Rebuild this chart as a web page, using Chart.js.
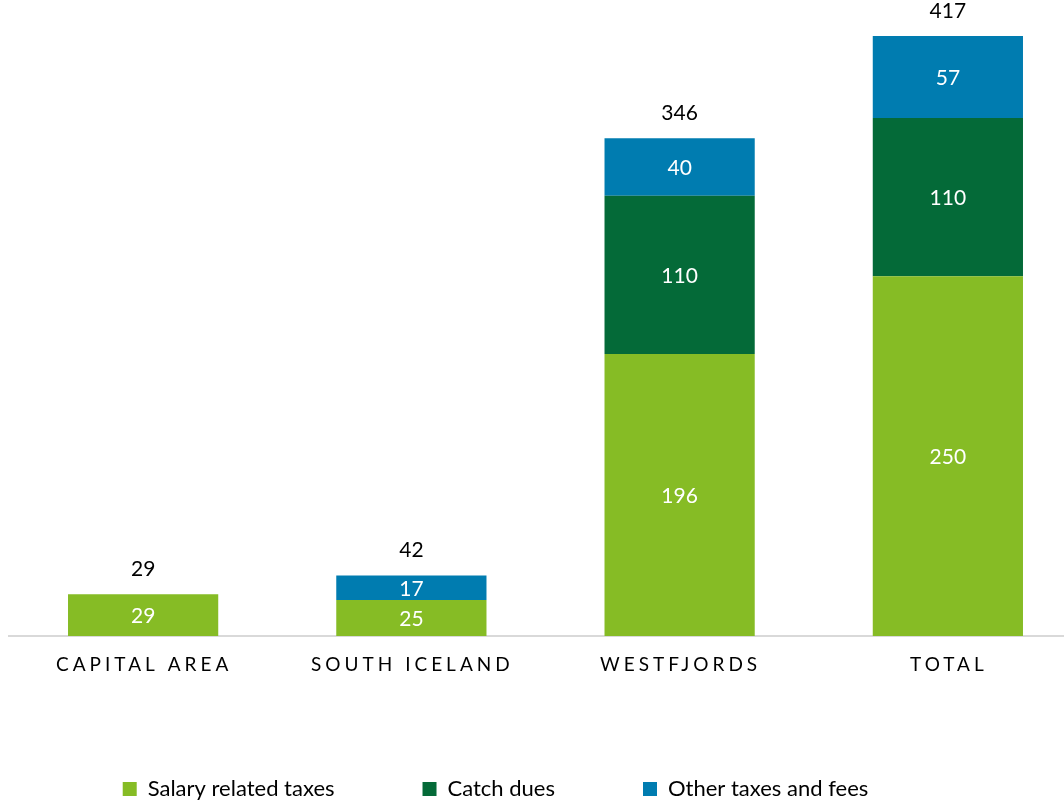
<!DOCTYPE html>
<html>
<head>
<meta charset="utf-8">
<script src="https://cdn.jsdelivr.net/npm/chart.js@4"></script>
<style>
  html, body { margin: 0; padding: 0; background: #fff; overflow: hidden; }
  #wrap { width: 1064px; height: 801px; overflow: hidden; }
</style>
</head>
<body>
<div id="wrap"><canvas id="chart" width="1085" height="801"></canvas></div>
<script>
const regions = ["CAPITAL AREA", "SOUTH ICELAND", "WESTFJORDS", "TOTAL"];
const salaryTaxes = [29, 25, 196, 250];
const catchDues = [null, null, 110, 110];
const otherTaxes = [null, 17, 40, 57];
const totals = [29, 42, 346, 417];

const FONT = "Lato, 'Open Sans', sans-serif";

// white numbers inside each segment, black totals above the stacks
const valueLabels = {
  id: "valueLabels",
  afterLayout(chart) {
    // legend is centred on the visible page, not on the wider canvas
    if (chart.legend) {
      chart.legend.left -= 50;
      chart.legend.right -= 50;
    }
  },
  afterDatasetsDraw(chart) {
    const ctx = chart.ctx;
    ctx.save();
    ctx.textAlign = "center";
    ctx.textBaseline = "middle";
    ctx.font = "21px " + FONT;
    ctx.fillStyle = "#ffffff";
    chart.data.datasets.forEach((ds, di) => {
      chart.getDatasetMeta(di).data.forEach((bar, i) => {
        if (ds.data[i] == null) return;
        ctx.fillText(ds.data[i], bar.x, (bar.y + bar.base) / 2 + 1);
      });
    });
    const yScale = chart.scales.y;
    const xScale = chart.scales.x;
    ctx.fillStyle = "#000000";
    totals.forEach((t, i) => {
      ctx.fillText(t, xScale.getPixelForValue(i), yScale.getPixelForValue(t) - 25);
    });
    ctx.restore();
  },
  afterDraw(chart) {
    // category labels with wide letter spacing
    const ctx = chart.ctx;
    const xScale = chart.scales.x;
    ctx.save();
    ctx.font = "19px " + FONT;
    ctx.letterSpacing = "4px";
    ctx.fillStyle = "#000000";
    ctx.textAlign = "center";
    ctx.textBaseline = "middle";
    regions.forEach((r, i) => {
      ctx.fillText(r, xScale.getPixelForValue(i) + 1, 665);
    });
    ctx.restore();
  }
};

new Chart(document.getElementById("chart").getContext("2d"), {
  type: "bar",
  data: {
    labels: regions,
    datasets: [
      { label: "Salary related taxes", data: salaryTaxes, backgroundColor: "#86BC25" },
      { label: "Catch dues", data: catchDues, backgroundColor: "#046A38" },
      { label: "Other taxes and fees", data: otherTaxes, backgroundColor: "#007CB0" },
    ],
  },
  options: {
    responsive: false,
    animation: false,
    layout: { padding: { left: 9, right: 3, top: 0, bottom: -9 } },
    datasets: {
      bar: { barPercentage: 0.56, categoryPercentage: 1, borderWidth: 0 },
    },
    scales: {
      x: {
        stacked: true,
        grid: { display: false },
        border: { display: true, color: "#d9d9d9", width: 2 },
        ticks: { display: false },
        afterFit(scale) { scale.height = 54; },
      },
      y: {
        stacked: true,
        display: false,
        min: 0,
        max: 442,
      },
    },
    plugins: {
      legend: {
        position: "bottom",
        labels: {
          boxWidth: 14,
          boxHeight: 14,
          padding: 88,
          color: "#000000",
          font: { family: FONT, size: 22 },
        },
      },
      tooltip: { enabled: false },
    },
  },
  plugins: [valueLabels],
});
</script>
</body>
</html>
